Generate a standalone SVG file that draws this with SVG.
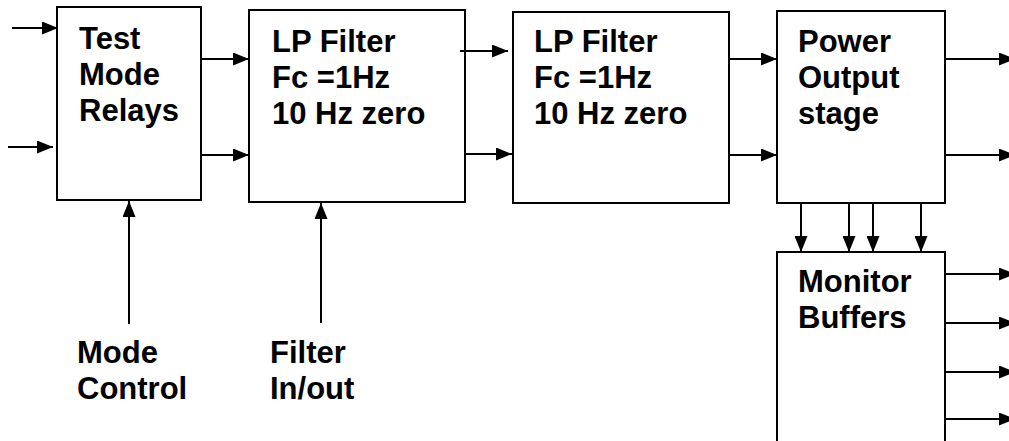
<svg xmlns="http://www.w3.org/2000/svg" width="1009" height="441" viewBox="0 0 1009 441">
<style>
.box{fill:#fff;stroke:#000;stroke-width:2}
.t{font-family:"Liberation Sans",Arial,sans-serif;font-weight:bold;font-size:31px;fill:#000}
.c{stroke:#000;stroke-width:2;fill:none;marker-end:url(#ah)}
</style>
<defs>
<marker id="ah" markerUnits="userSpaceOnUse" markerWidth="16" markerHeight="13" refX="16" refY="6.5" orient="auto">
<path d="M0,0 L16,6.5 L0,13 z" fill="#000"/>
</marker>
</defs>
<rect width="1009" height="441" fill="#fff"/>
<g id="relays"><rect class="box" x="57" y="7" width="144" height="193"/>
<text class="t" x="79" y="49">Test</text><text class="t" x="79" y="85">Mode</text><text class="t" x="79" y="121">Relays</text></g>
<g id="filter1"><rect class="box" x="249" y="10" width="216" height="192"/>
<text class="t" x="272" y="52">LP Filter</text><text class="t" x="272" y="88">Fc =1Hz</text><text class="t" x="272" y="124">10 Hz zero</text></g>
<g id="filter2"><rect class="box" x="513" y="12" width="216" height="191"/>
<text class="t" x="534" y="52">LP Filter</text><text class="t" x="534" y="88">Fc =1Hz</text><text class="t" x="534" y="124">10 Hz zero</text></g>
<g id="power"><rect class="box" x="777" y="11" width="168" height="192"/>
<text class="t" x="798" y="52">Power</text><text class="t" x="798" y="88">Output</text><text class="t" x="798" y="124">stage</text></g>
<g id="monitor"><rect class="box" x="777" y="252" width="168" height="210"/>
<text class="t" x="798" y="292">Monitor</text><text class="t" x="798" y="328">Buffers</text></g>
<g id="modecontrol"><text class="t" x="77" y="363">Mode</text><text class="t" x="77" y="399">Control</text></g>
<g id="filterinout"><text class="t" x="270" y="363">Filter</text><text class="t" x="270" y="399">In/out</text></g>
<g id="connectors">
<line class="c" x1="12" y1="28" x2="58" y2="28"/>
<line class="c" x1="8" y1="147" x2="53" y2="147"/>
<line class="c" x1="201" y1="59" x2="249" y2="59"/>
<line class="c" x1="201" y1="155" x2="249" y2="155"/>
<line class="c" x1="460" y1="51" x2="508" y2="51"/>
<line class="c" x1="465" y1="154" x2="512" y2="154"/>
<line class="c" x1="729" y1="59" x2="777" y2="59"/>
<line class="c" x1="729" y1="155" x2="777" y2="155"/>
<line class="c" x1="945" y1="59" x2="1015" y2="59"/>
<line class="c" x1="945" y1="155" x2="1015" y2="155"/>
<line class="c" x1="801" y1="203" x2="801" y2="252"/>
<line class="c" x1="849" y1="203" x2="849" y2="252"/>
<line class="c" x1="873" y1="203" x2="873" y2="252"/>
<line class="c" x1="921" y1="203" x2="921" y2="252"/>
<line class="c" x1="945" y1="274" x2="1015" y2="274"/>
<line class="c" x1="945" y1="323" x2="1015" y2="323"/>
<line class="c" x1="945" y1="372" x2="1015" y2="372"/>
<line class="c" x1="945" y1="419" x2="1015" y2="419"/>
<line class="c" x1="129" y1="324" x2="129" y2="201"/>
<line class="c" x1="321" y1="323" x2="321" y2="203"/>
</g>
</svg>
